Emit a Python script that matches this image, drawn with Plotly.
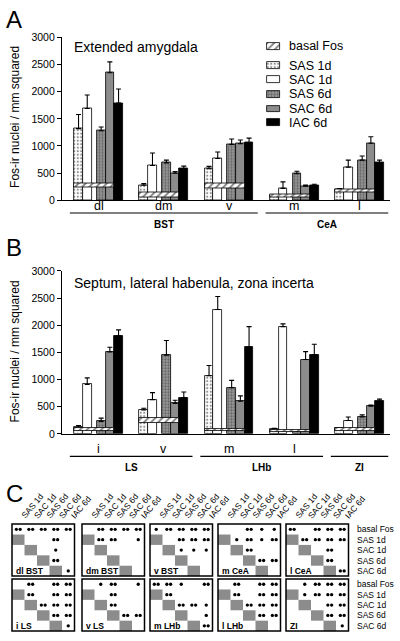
import plotly.graph_objects as go

W, H = 400, 641
FONT = "Liberation Sans, Arial, Helvetica, sans-serif"

# ---------------- data ----------------
series = ["SAS 1d", "SAC 1d", "SAS 6d", "SAC 6d", "IAC 6d"]
basal_name = "basal Fos"

# Panel A
a_title = "Extended amygdala"
a_groups = ["dl", "dm", "v", "m", "l"]
a_regions = ["BST", "CeA"]
a_region_groups = [[0, 1, 2], [3, 4]]
a_sas1d = [1320, 280, 580, 90, 200]
a_sac1d = [1690, 640, 770, 220, 610]
a_sas6d = [1280, 690, 1030, 490, 740]
a_sac6d = [2350, 500, 1040, 260, 1050]
a_iac6d = [1790, 580, 1060, 270, 690]
a_sas1d_err = [260, 30, 45, 15, 15]
a_sac1d_err = [250, 230, 120, 120, 130]
a_sas6d_err = [70, 50, 100, 45, 75]
a_sac6d_err = [200, 30, 70, 20, 120]
a_iac6d_err = [260, 50, 85, 25, 50]
a_basal_low = [230, 60, 210, 55, 145]
a_basal_high = [320, 140, 310, 115, 205]

# Panel B
b_title = "Septum, lateral habenula, zona incerta"
b_groups = ["i", "v", "m", "l", ""]
b_regions = ["LS", "LHb", "ZI"]
b_region_groups = [[0, 1], [2, 3], [4]]
b_sas1d = [120, 440, 1070, 90, 100]
b_sac1d = [910, 630, 2290, 1975, 245]
b_sas6d = [230, 1450, 850, 50, 310]
b_sac6d = [1510, 560, 600, 1370, 510]
b_iac6d = [1805, 670, 1600, 1460, 600]
b_sas1d_err = [35, 30, 190, 10, 10]
b_sac1d_err = [120, 130, 240, 50, 65]
b_sas6d_err = [60, 270, 135, 10, 40]
b_sac6d_err = [85, 60, 100, 145, 20]
b_iac6d_err = [110, 100, 375, 190, 40]
b_basal_low = [50, 200, 45, 30, 55]
b_basal_high = [100, 300, 90, 65, 110]

y_ticks = [0, 500, 1000, 1500, 2000, 2500, 3000]
y_title = "Fos-ir nuclei / mm squared"

# Panel C: significance matrices (rows = c_rows, cols = c_cols)
c_cols = series
c_rows = ["basal Fos", "SAS 1d", "SAC 1d", "SAS 6d", "SAC 6d"]
c_names = ["dl BST", "dm BST", "v BST", "m CeA", "l CeA",
           "i LS", "v LS", "m LHb", "l LHb", "ZI"]
sig_dl_bst = [["**", "**", "**", "**", "**"], ["", "", "", "**", ""], ["", "", "", "*", ""],
              ["", "", "", "**", ""], ["", "", "", "", "*"]]
sig_dm_bst = [["", "**", "**", "**", "**"], ["", "**", "**", "", "*"], ["", "", "", "", ""],
              ["", "", "", "", ""], ["", "", "", "", ""]]
sig_v_bst = [["*", "**", "**", "**", "**"], ["", "", "**", "**", "**"], ["", "", "*", "*", "*"],
             ["", "", "", "", ""], ["", "", "", "", ""]]
sig_m_cea = [["", "", "**", "*", "*"], ["", "*", "**", "*", "**"], ["", "", "**", "", ""],
             ["", "", "", "**", "**"], ["", "", "", "", ""]]
sig_l_cea = [["**", "", "**", "**", "**"], ["", "**", "**", "**", "**"], ["", "", "", "**", ""],
             ["", "", "", "**", ""], ["", "", "", "", "**"]]
sig_i_ls = [["", "**", "", "**", "**"], ["", "**", "", "**", "**"], ["", "", "**", "**", "**"],
            ["", "", "", "**", "**"], ["", "", "", "", "*"]]
sig_v_ls = [["", "*", "**", "", "*"], ["", "", "**", "", ""], ["", "", "**", "", ""],
            ["", "", "", "**", "**"], ["", "", "", "", ""]]
sig_m_lhb = [["**", "**", "*", "", "**"], ["", "**", "", "", ""], ["", "", "**", "**", "*"],
             ["", "", "", "", "*"], ["", "", "", "", "**"]]
sig_l_lhb = [["", "**", "", "**", "**"], ["", "**", "", "**", "**"], ["", "", "**", "**", "**"],
             ["", "", "", "**", "**"], ["", "", "", "", ""]]
sig_zi = [["", "*", "**", "**", "**"], ["", "*", "**", "**", "**"], ["", "", "", "**", "**"],
          ["", "", "", "**", "**"], ["", "", "", "", "*"]]
c_sig = [sig_dl_bst, sig_dm_bst, sig_v_bst, sig_m_cea, sig_l_cea,
         sig_i_ls, sig_v_ls, sig_m_lhb, sig_l_lhb, sig_zi]

# ---------------- styles ----------------
bar_styles = [
    dict(color="white", pattern=dict(shape=".", fgcolor="#222222", bgcolor="white", size=3.5, solidity=0.3)),
    dict(color="white"),
    dict(color="#8a8a8a", pattern=dict(shape=".", fgcolor="#333333", bgcolor="#9a9a9a", size=3, solidity=0.45)),
    dict(color="#8c8c8c"),
    dict(color="black"),
]
basal_style = dict(color="white", pattern=dict(shape="/", fgcolor="black", bgcolor="white", size=5, solidity=0.35))
LINE = dict(color="black", width=0.8)

GROUP_STEP = 7.5
offsets = [0.5, 1.5, 3.1, 4.1, 5.1]
BAND_C, BAND_W = 2.3, 4.6
X_RANGE = [-1.4, 36.3]


def py(p):
    return 1 - p / H


fig = go.Figure()


def add_panel(vals, errs, lo, hi, xa, ya):
    n = len(vals[0])
    for k in range(5):
        m = dict(bar_styles[k])
        m["line"] = LINE
        fig.add_trace(go.Bar(
            x=[i * GROUP_STEP + offsets[k] for i in range(n)], y=vals[k], width=1.0,
            marker=m, name=series[k], showlegend=False, xaxis=xa, yaxis=ya,
            error_y=dict(type="data", symmetric=False, array=errs[k], arrayminus=[0] * n,
                         color="black", thickness=1.1, width=2.5)))
    m = dict(basal_style)
    m["line"] = LINE
    fig.add_trace(go.Bar(
        x=[i * GROUP_STEP + BAND_C for i in range(n)], base=lo,
        y=[h - l for h, l in zip(hi, lo)], width=BAND_W, marker=m, name=basal_name,
        showlegend=False, xaxis=xa, yaxis=ya))


add_panel([a_sas1d, a_sac1d, a_sas6d, a_sac6d, a_iac6d],
          [a_sas1d_err, a_sac1d_err, a_sas6d_err, a_sac6d_err, a_iac6d_err],
          a_basal_low, a_basal_high, "x", "y")
add_panel([b_sas1d, b_sac1d, b_sas6d, b_sac6d, b_iac6d],
          [b_sas1d_err, b_sac1d_err, b_sas6d_err, b_sac6d_err, b_iac6d_err],
          b_basal_low, b_basal_high, "x2", "y2")

annotations = []
shapes = []

def ann(text, x, y, size, xref="x3", yref="y3", xanchor="center", yanchor="middle", bold=False, angle=0):
    annotations.append(dict(text=("<b>%s</b>" % text) if bold else text, x=x, y=y, xref=xref, yref=yref,
                            xanchor=xanchor, yanchor=yanchor, showarrow=False, textangle=angle,
                            font=dict(family=FONT, size=size, color="black")))

# panel letters and titles
ann("A", 4, 14, 24, xanchor="left")
ann("B", 4, 246, 24, xanchor="left")
ann("C", 4, 497, 24, xanchor="left")
ann(a_title, 72, 42, 14, xanchor="left")
ann(b_title, 72, 282, 14, xanchor="left")
ann(y_title, 15, 113, 12, angle=-90)
ann(y_title, 15, 352, 12, angle=-90)

# category labels, region brackets
def panel_labels(groups, regions, region_groups, xref, y_cat, y_line, y_reg):
    for i, g in enumerate(groups):
        if g:
            annotations.append(dict(text=g, x=i * GROUP_STEP + 2.8, y=py(y_cat), xref=xref, yref="paper",
                                    showarrow=False, xanchor="center", yanchor="middle",
                                    font=dict(family=FONT, size=12.5, color="black")))
    for r, gs in zip(regions, region_groups):
        x0 = gs[0] * GROUP_STEP - 0.5
        x1 = gs[-1] * GROUP_STEP + 5.6 + 0.5
        shapes.append(dict(type="line", x0=x0, x1=x1, y0=py(y_line), y1=py(y_line), xref=xref, yref="paper",
                           line=dict(color="black", width=1.1)))
        annotations.append(dict(text="<b>%s</b>" % r, x=(x0 + x1) / 2, y=py(y_reg), xref=xref, yref="paper",
                                showarrow=False, xanchor="center", yanchor="middle",
                                font=dict(family=FONT, size=10, color="black")))

panel_labels(a_groups, a_regions, a_region_groups, "x", 204, 211, 223)
panel_labels(b_groups, b_regions, b_region_groups, "x2", 451, 459, 470)

# legend (custom)
leg_y = [41, 61, 75, 90, 105, 119]
leg_names = [basal_name] + series
leg_styles = [basal_style] + bar_styles
for name, yc, st in zip(leg_names, leg_y, leg_styles):
    m = dict(st)
    m["line"] = LINE
    fig.add_trace(go.Bar(x=[273.5], y=[7], base=[yc - 3.5], width=13, marker=m, showlegend=False,
                         xaxis="x3", yaxis="y3", hoverinfo="skip"))
    ann(name, 287, yc, 12.5, xanchor="left")

# panel C matrices
c_lefts = [12, 82, 150, 218, 286]
c_tops = [528, 584]
CW, CH = 12.5, 10.6
dot_x, dot_y = [], []
for idx, (name, sig) in enumerate(zip(c_names, c_sig)):
    left = c_lefts[idx % 5]
    top = c_tops[idx // 5]
    for r in range(1, 5):
        shapes.append(dict(type="rect", xref="x3", yref="y3", x0=left + (r - 1) * CW, x1=left + r * CW,
                           y0=top + r * CH, y1=top + (r + 1) * CH, fillcolor="#8c8c8c",
                           line=dict(width=0), layer="below"))
    shapes.append(dict(type="rect", xref="x3", yref="y3", x0=left, x1=left + 5 * CW, y0=top, y1=top + 5 * CH,
                       line=dict(color="black", width=1.5), fillcolor="rgba(0,0,0,0)"))
    for r in range(5):
        for c in range(5):
            s = sig[r][c]
            cx = left + (c + 0.5) * CW
            cy = top + (r + 0.5) * CH
            if s == "**":
                dot_x += [cx - 1.9, cx + 1.9]
                dot_y += [cy, cy]
            elif s == "*":
                dot_x.append(cx)
                dot_y.append(cy)
    ann(name, left + 2, top + 4.5 * CH, 8.5, xanchor="left", bold=True)
    if idx < 5:
        for c, cn in enumerate(c_cols):
            ann(cn, left + (c + 0.5) * CW - 2, top - 1, 8.5, xanchor="left", yanchor="bottom", angle=-50)

fig.add_trace(go.Scatter(x=dot_x, y=dot_y, mode="markers", xaxis="x3", yaxis="y3", showlegend=False,
                         marker=dict(size=3.3, color="black"), hoverinfo="skip"))

for top in c_tops:
    for r, rn in enumerate(c_rows):
        ann(rn, 355, top + (r + 0.5) * CH, 8.5, xanchor="left")

ax_common = dict(showline=True, linecolor="black", linewidth=1.2, showgrid=False, zeroline=False,
                 fixedrange=True)
xa = dict(ax_common, domain=[62 / W, 390 / W], range=X_RANGE, showticklabels=False, ticks="")
ya = dict(ax_common, range=[0, 3000], tickvals=y_ticks, ticks="outside", ticklen=4, tickwidth=1,
          tickcolor="black", tickfont=dict(family=FONT, size=10.5, color="black"))

fig.update_layout(
    width=W, height=H, autosize=False,
    margin=dict(l=0, r=0, t=0, b=0),
    paper_bgcolor="white", plot_bgcolor="rgba(0,0,0,0)",
    barmode="overlay", bargap=0,
    showlegend=False,
    font=dict(family=FONT, color="black"),
    xaxis=dict(xa, anchor="y"),
    yaxis=dict(ya, domain=[py(198), py(32)], anchor="x"),
    xaxis2=dict(xa, anchor="y2"),
    yaxis2=dict(ya, domain=[py(436), py(270)], anchor="x2"),
    xaxis3=dict(domain=[0, 1], range=[0, W], visible=False, fixedrange=True, anchor="y3"),
    yaxis3=dict(domain=[0, 1], range=[H, 0], visible=False, fixedrange=True, anchor="x3"),
    annotations=annotations,
    shapes=shapes,
)

fig.write_html("out.html", config={"displayModeBar": False})

# remove default page margin so the 400x641 figure fills the window exactly
with open("out.html", "r", encoding="utf-8") as f:
    html = f.read()
html = html.replace("<head>", "<head><style>html,body{margin:0;padding:0;overflow:hidden;}</style>", 1)
with open("out.html", "w", encoding="utf-8") as f:
    f.write(html)
